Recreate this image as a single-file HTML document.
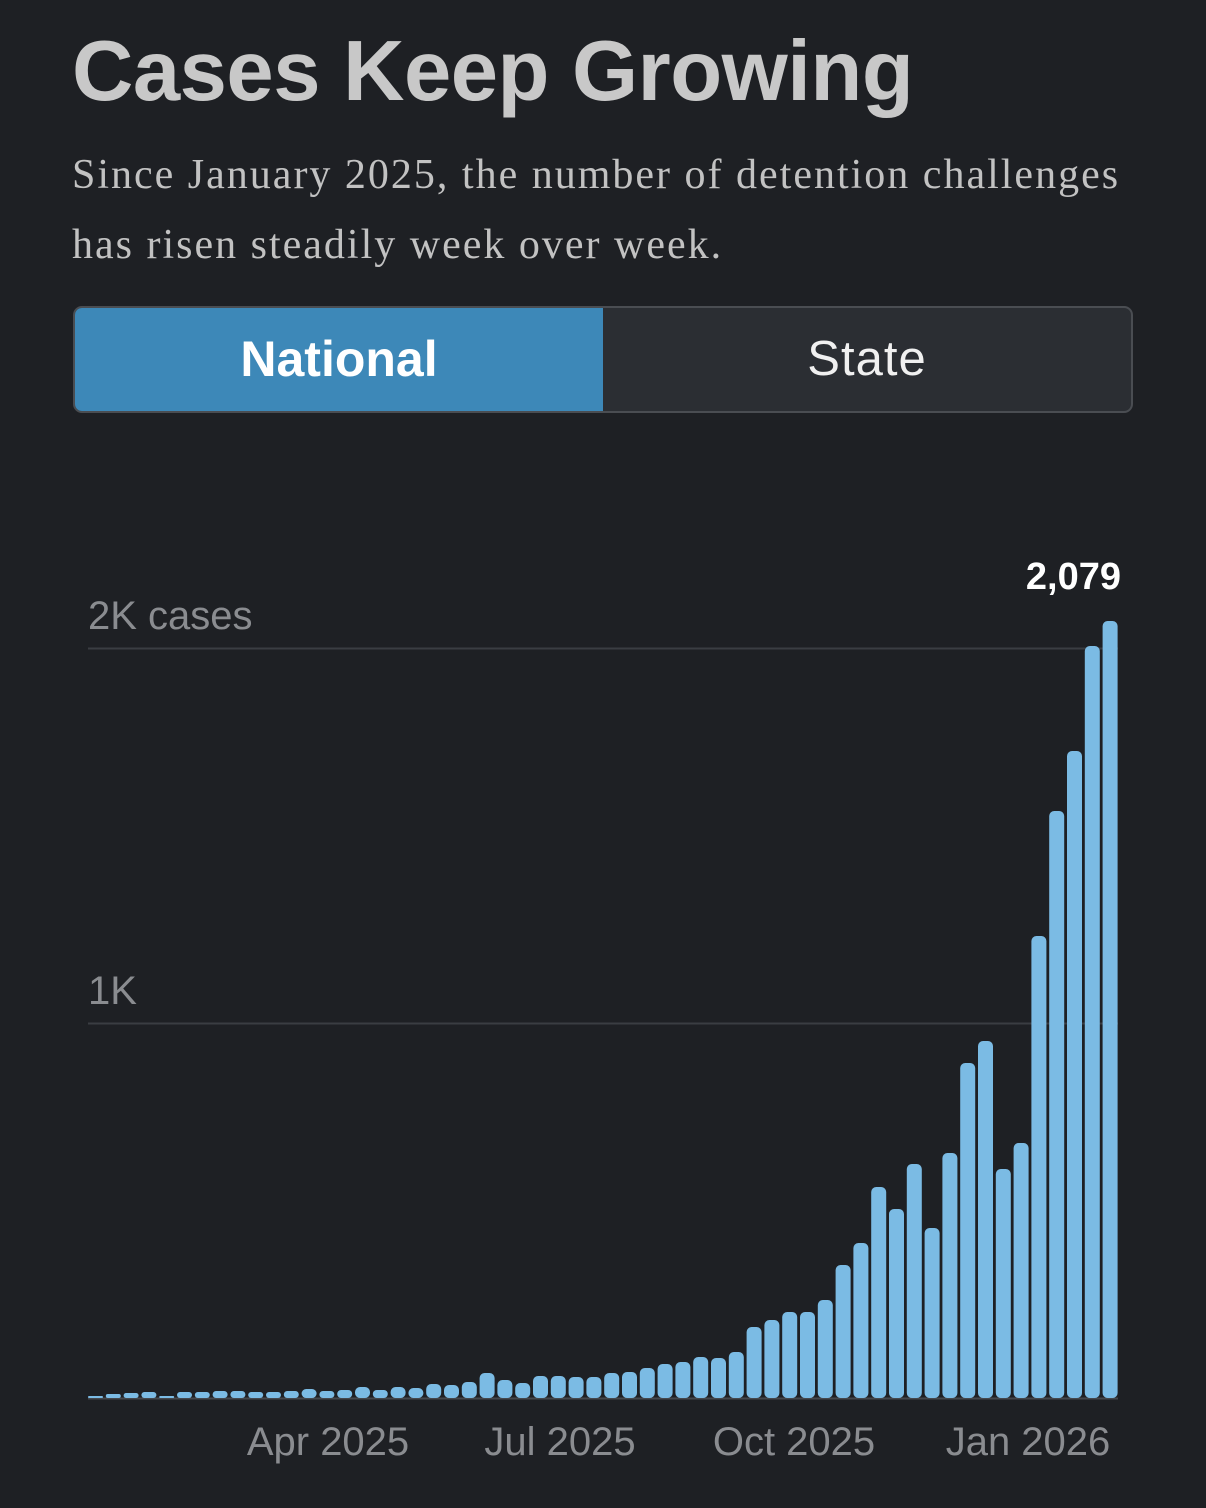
<!DOCTYPE html>
<html><head><meta charset="utf-8"><style>
html,body{margin:0;padding:0;background:#1e2024;width:1206px;height:1508px;overflow:hidden}
.t{position:absolute;left:72px;top:22px;font-family:"Liberation Sans",sans-serif;font-weight:bold;font-size:85px;line-height:100px;color:#c8c8c8;letter-spacing:-0.5px}
.s{position:absolute;left:72px;top:140px;font-family:"Liberation Serif",serif;font-size:42px;letter-spacing:2px;line-height:70px;color:#c2c2c2;width:1110px}
.tg{position:absolute;left:73px;top:306px;width:1056px;height:103px;border:2px solid #4a4d52;border-radius:9px;background:#2b2e33;overflow:hidden;font-family:"Liberation Sans",sans-serif}
.n{position:absolute;left:0;top:0;width:528px;height:103px;background:#3d88b8;color:#fff;font-weight:bold;font-size:50px;text-align:center;line-height:103px}
.st{position:absolute;left:528px;top:0;width:528px;height:103px;color:#f0f0f0;font-size:49px;text-align:center;line-height:103px;letter-spacing:1px}
svg{position:absolute;left:0;top:0}
</style></head><body>
<div class="t">Cases Keep Growing</div>
<div class="s">Since January 2025, the number of detention challenges has risen steadily week over week.</div>
<div class="tg"><div class="n">National</div><div class="st">State</div></div>
<svg id="c" width="1206" height="1508" font-family="Liberation Sans, sans-serif">
<line x1="88" y1="648.5" x2="1118" y2="648.5" stroke="#3a3d42" stroke-width="2"/>
<line x1="88" y1="1023.5" x2="1118" y2="1023.5" stroke="#3a3d42" stroke-width="2"/>
<line x1="88" y1="1398.5" x2="1118" y2="1398.5" stroke="#45484d" stroke-width="2"/>
<text x="88" y="629" font-size="40" fill="#8a8c90">2K cases</text>
<text x="88" y="1004" font-size="40" fill="#8a8c90">1K</text>
<text x="1121" y="589" font-size="38" font-weight="bold" fill="#ffffff" text-anchor="end">2,079</text>
<text x="328" y="1455" font-size="40" fill="#8a8c90" text-anchor="middle">Apr 2025</text>
<text x="560" y="1455" font-size="40" fill="#8a8c90" text-anchor="middle">Jul 2025</text>
<text x="794" y="1455" font-size="40" fill="#8a8c90" text-anchor="middle">Oct 2025</text>
<text x="1028" y="1455" font-size="40" fill="#8a8c90" text-anchor="middle">Jan 2026</text>
<g id="b" fill="#7bbbe4"></g>
</svg>
<script>
var tops=[1396,1394,1393,1392,1396,1392,1392,1391,1391,1392,1392,1391,1389,1391,1390,1387,1390,1387,1388,1384,1385,1382,1373,1380,1383,1376,1376,1377,1377,1373,1372,1368,1364,1362,1357,1358,1352,1327,1320,1312,1312,1300,1265,1243,1187,1209,1164,1228,1153,1063,1041,1169,1143,936,811,751,646,621];
var g=document.getElementById('b'),s='';
for(var i=0;i<tops.length;i++){var x=88+i*17.8,h=1398-tops[i];var r=Math.min(5,h/2);
s+='<rect x="'+x.toFixed(1)+'" y="'+tops[i]+'" width="15" height="'+h+'" rx="'+r+'"/>';}
g.innerHTML=s;
</script>
</body></html>
